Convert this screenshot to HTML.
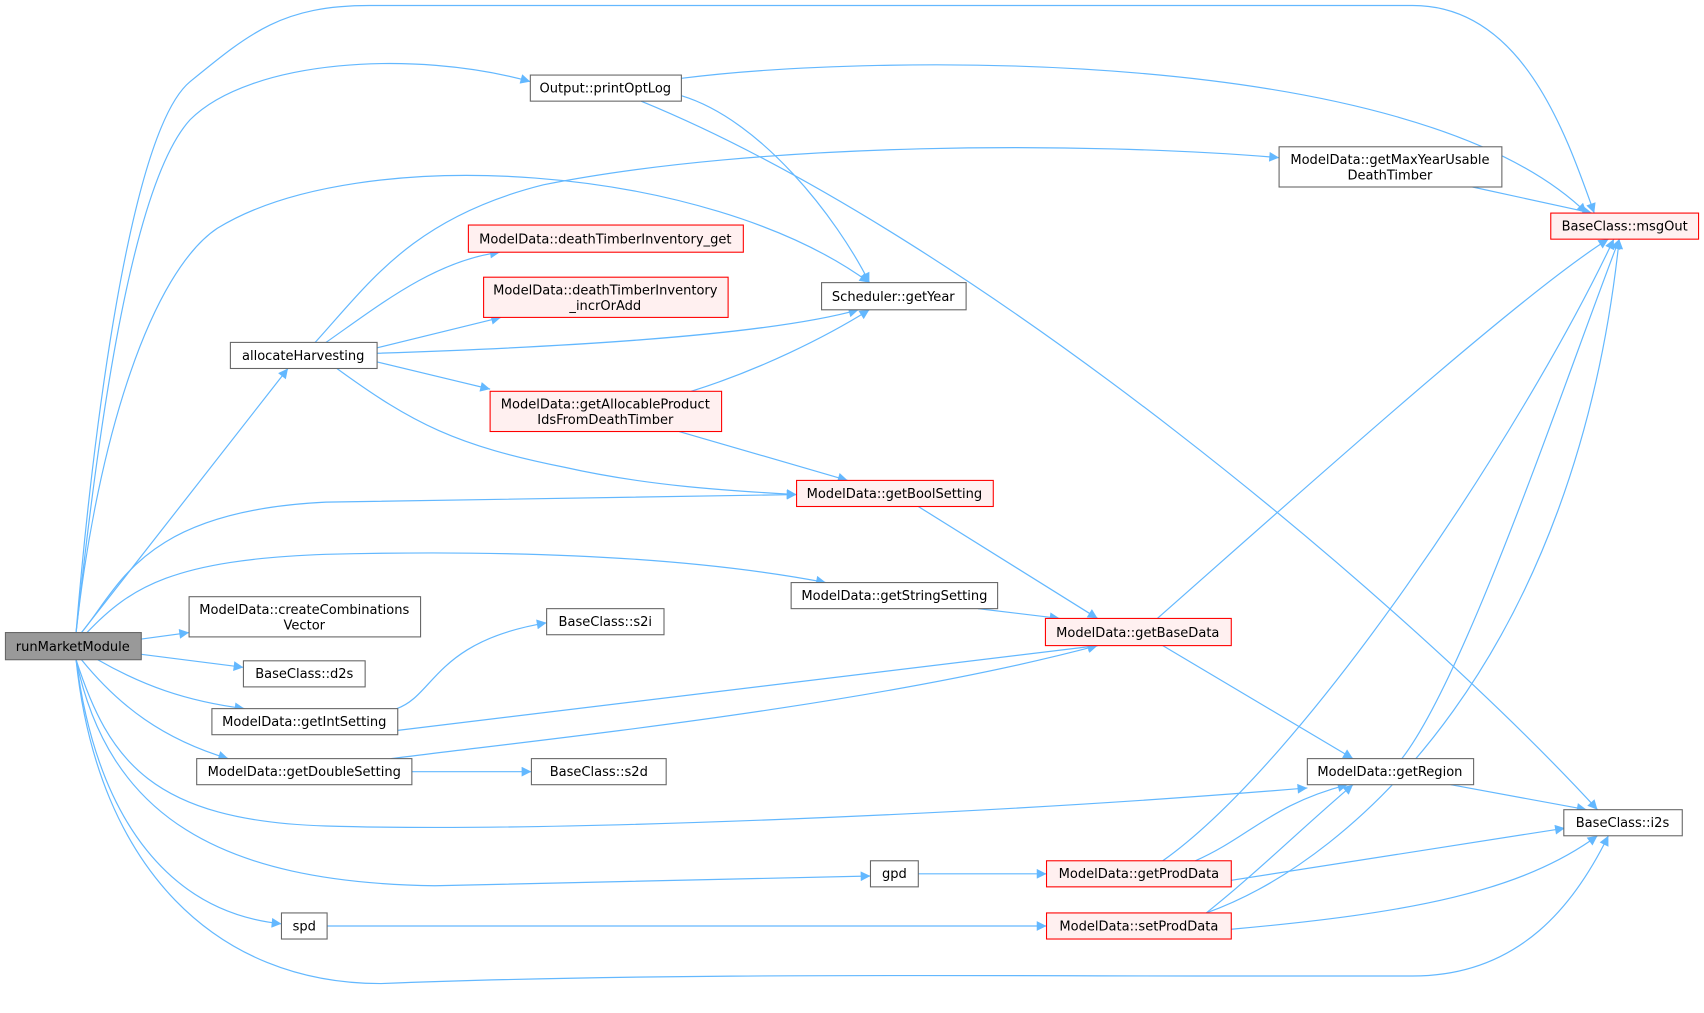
<!DOCTYPE html>
<html><head><meta charset="utf-8"><style>
html,body{margin:0;padding:0;background:#fff;}
svg{display:block}
text{font-family:"DejaVu Sans","Liberation Sans",sans-serif;font-size:12px;fill:#000;text-anchor:middle}
.e{fill:none;stroke:#63b8ff;stroke-width:1.1}
.n{fill:#fff;stroke:#666;stroke-width:1}
.r{fill:#fff0f0;stroke:#f00;stroke-width:1}
</style></head><body>
<svg width="1704" height="1013" viewBox="0 0 1568 932" xmlns="http://www.w3.org/2000/svg">
<defs><marker id="a" viewBox="0 0 10 10" refX="10" refY="5" markerWidth="12" markerHeight="9" markerUnits="userSpaceOnUse" orient="auto"><path d="M0,0L10,5L0,10z" fill="#63b8ff"/></marker></defs>
<g marker-end="url(#a)">
<path class="e" d="M70,582 C85,400 120,120 175,75 C230,30 260,5 340,5 L1300,5 C1400,5 1440,120 1467,196"/>
<path class="e" d="M70,582 C90,400 120,170 175,110 C230,55 380,45 488,75"/>
<path class="e" d="M70,582 C90,400 140,250 200,210 C330,130 650,150 800,260"/>
<path class="e" d="M75,582 L265,339"/>
<path class="e" d="M75,582 C110,540 130,470 300,462 L733,455"/>
<path class="e" d="M80,582 C120,540 160,515 300,510 C500,505 650,515 760,536"/>
<path class="e" d="M130,588 L174,582"/>
<path class="e" d="M130,602 L224,614"/>
<path class="e" d="M90,607 C130,630 170,645 225,652"/>
<path class="e" d="M75,607 C110,650 150,680 210,698"/>
<path class="e" d="M70,607 C100,700 140,755 300,760 C500,766 900,750 1203,725"/>
<path class="e" d="M70,607 C100,750 200,812 400,815 L801,806"/>
<path class="e" d="M70,607 C90,760 160,840 259,850"/>
<path class="e" d="M70,607 C90,800 200,905 350,905 C600,895 900,898 1100,898 L1300,898 C1400,898 1450,830 1480,769"/>
<path class="e" d="M627,72 C800,50 1300,40 1460,196"/>
<path class="e" d="M627,88 C700,110 770,200 800,260"/>
<path class="e" d="M590,93 C900,220 1300,560 1470,745"/>
<path class="e" d="M290,315 C340,260 380,200 500,170 C700,130 1000,130 1177,145"/>
<path class="e" d="M1355,172 L1465,196"/>
<path class="e" d="M300,315 C350,280 400,240 460,232"/>
<path class="e" d="M347,320 L461,292"/>
<path class="e" d="M347,325 C500,320 700,310 790,285"/>
<path class="e" d="M347,333 L451,358"/>
<path class="e" d="M310,339 C380,390 420,410 520,430 C600,448 680,452 733,455"/>
<path class="e" d="M636,360 C700,340 760,310 800,285"/>
<path class="e" d="M625,397 L780,442"/>
<path class="e" d="M845,466 L1010,569"/>
<path class="e" d="M900,560 L975,569"/>
<path class="e" d="M1065,569 C1200,450 1400,270 1480,220"/>
<path class="e" d="M1070,594 L1245,698"/>
<path class="e" d="M365,652 C400,640 400,590 503,573"/>
<path class="e" d="M366,672 L1010,594"/>
<path class="e" d="M360,698 C500,680 800,650 1010,594"/>
<path class="e" d="M379,710 L489,710"/>
<path class="e" d="M1290,698 C1350,620 1440,350 1490,220"/>
<path class="e" d="M1335,722 L1460,745"/>
<path class="e" d="M845,804 L963,804"/>
<path class="e" d="M1070,792 C1200,700 1400,400 1485,220"/>
<path class="e" d="M1100,792 C1150,770 1170,740 1240,722"/>
<path class="e" d="M1133,810 L1440,762"/>
<path class="e" d="M301,852 L963,852"/>
<path class="e" d="M1110,840 C1160,800 1200,760 1245,722"/>
<path class="e" d="M1110,840 C1250,790 1450,600 1490,220"/>
<path class="e" d="M1133,855 C1300,840 1400,820 1470,769"/>
</g>
<rect x="5" y="582" width="125" height="25" fill="#999" stroke="#666"/><text x="67" y="599">runMarketModule</text>
<rect class="n" x="488" y="69" width="139" height="24"/><text x="557" y="85">Output::printOptLog</text>
<rect class="n" x="1177" y="135" width="205" height="37"/><text x="1279" y="151">ModelData::getMaxYearUsable</text><text x="1279" y="165">DeathTimber</text>
<rect class="r" x="1427" y="196" width="136" height="24"/><text x="1495" y="212">BaseClass::msgOut</text>
<rect class="r" x="431" y="207" width="253" height="25"/><text x="557" y="224">ModelData::deathTimberInventory_get</text>
<rect class="r" x="445" y="255" width="225" height="37"/><text x="557" y="271">ModelData::deathTimberInventory</text><text x="557" y="285">_incrOrAdd</text>
<rect class="n" x="756" y="260" width="133" height="25"/><text x="822" y="277">Scheduler::getYear</text>
<rect class="n" x="212" y="315" width="135" height="24"/><text x="279" y="331">allocateHarvesting</text>
<rect class="r" x="451" y="360" width="213" height="37"/><text x="557" y="376">ModelData::getAllocableProduct</text><text x="557" y="390">IdsFromDeathTimber</text>
<rect class="r" x="733" y="442" width="181" height="24"/><text x="823" y="458">ModelData::getBoolSetting</text>
<rect class="n" x="728" y="536" width="190" height="24"/><text x="823" y="552">ModelData::getStringSetting</text>
<rect class="n" x="174" y="549" width="213" height="37"/><text x="280" y="565">ModelData::createCombinations</text><text x="280" y="579">Vector</text>
<rect class="n" x="503" y="560" width="108" height="24"/><text x="557" y="576">BaseClass::s2i</text>
<rect class="r" x="962" y="569" width="171" height="25"/><text x="1047" y="586">ModelData::getBaseData</text>
<rect class="n" x="224" y="608" width="112" height="24"/><text x="280" y="624">BaseClass::d2s</text>
<rect class="n" x="195" y="652" width="171" height="24"/><text x="280" y="668">ModelData::getIntSetting</text>
<rect class="n" x="181" y="698" width="198" height="24"/><text x="280" y="714">ModelData::getDoubleSetting</text>
<rect class="n" x="489" y="698" width="124" height="24"/><text x="551" y="714">BaseClass::s2d</text>
<rect class="n" x="1203" y="698" width="153" height="24"/><text x="1279" y="714">ModelData::getRegion</text>
<rect class="n" x="1439" y="745" width="109" height="24"/><text x="1493" y="761">BaseClass::i2s</text>
<rect class="n" x="801" y="792" width="44" height="24"/><text x="823" y="808">gpd</text>
<rect class="r" x="963" y="792" width="170" height="24"/><text x="1048" y="808">ModelData::getProdData</text>
<rect class="n" x="259" y="840" width="42" height="24"/><text x="280" y="856">spd</text>
<rect class="r" x="963" y="840" width="170" height="24"/><text x="1048" y="856">ModelData::setProdData</text>
</svg>
</body></html>
